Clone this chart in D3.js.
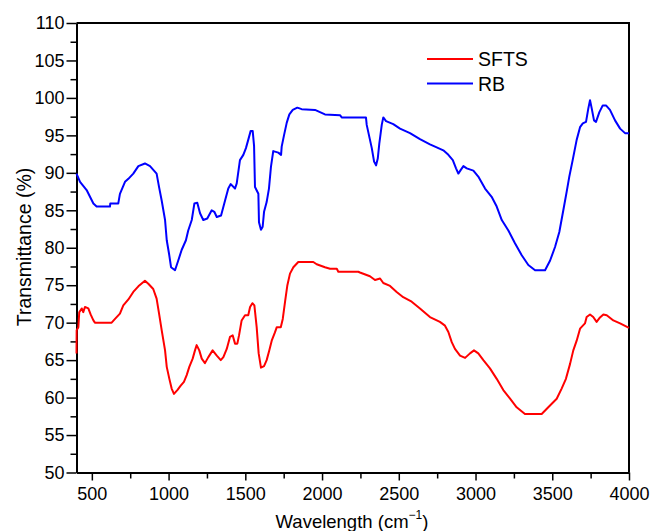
<!DOCTYPE html>
<html>
<head>
<meta charset="utf-8">
<script src="https://cdn.jsdelivr.net/npm/d3@7"></script>
<style>
  body { margin: 0; background: #fff; }
  text { font-family: "Liberation Sans", Arial, sans-serif; fill: #000; }
</style>
</head>
<body>
<div id="chart"></div>
<script>
// FTIR spectra, values
const rbWave = [400, 423, 466, 510, 531, 618, 620, 672, 683, 716, 738, 770, 803, 846, 879, 922, 938, 955, 977, 988,
  1003, 1016, 1042, 1063, 1085, 1113, 1128, 1151, 1168, 1187, 1205, 1226, 1252, 1281, 1298, 1314, 1342, 1368, 1389, 1405,
  1433, 1444, 1465, 1487, 1504, 1519, 1535, 1548, 1557, 1563, 1585, 1589, 1602, 1613, 1622, 1639, 1654, 1667, 1682, 1715,
  1733, 1737, 1752, 1770, 1787, 1809, 1839, 1867, 1954, 2019, 2117, 2128, 2286, 2291, 2308, 2324, 2339, 2352, 2363, 2373,
  2389, 2399, 2417, 2464, 2508, 2573, 2638, 2703, 2747, 2790, 2823, 2852, 2873, 2888, 2904, 2921, 2943, 2986, 3018, 3062,
  3105, 3138, 3171, 3214, 3257, 3301, 3344, 3388, 3453, 3486, 3518, 3546, 3572, 3594, 3611, 3633, 3659, 3681, 3699, 3720,
  3735, 3746, 3757, 3772, 3785, 3807, 3829, 3850, 3876, 3909, 3942, 3974, 4000];
const rbTrans = [89.9, 88.8, 87.7, 85.9, 85.5, 85.5, 85.9, 85.9, 87.2, 88.8, 89.2, 89.9, 90.9, 91.25, 90.9, 89.9, 88.1, 86.3, 83.7, 81.0,
  79.2, 77.4, 77.0, 78.3, 79.7, 81.0, 82.3, 83.7, 85.9, 86.0, 84.6, 83.7, 83.9, 85.0, 84.8, 84.1, 84.3, 86.3, 87.9, 88.5,
  87.9, 88.6, 91.7, 92.4, 93.3, 94.4, 95.6, 95.6, 93.6, 88.1, 87.2, 83.4, 82.4, 82.8, 84.8, 86.1, 87.9, 90.8, 92.9, 92.7,
  92.4, 93.5, 95.0, 96.7, 97.8, 98.4, 98.7, 98.5, 98.4, 97.8, 97.7, 97.4, 97.4, 96.4, 94.8, 93.3, 91.5, 91.0, 91.9, 93.9,
  96.4, 97.4, 96.9, 96.5, 95.9, 95.3, 94.5, 93.8, 93.4, 93.0, 92.4, 91.7, 90.6, 89.9, 90.4, 90.9, 90.6, 90.3, 89.5, 87.9,
  86.8, 85.5, 83.7, 82.3, 80.6, 79.0, 77.7, 77.0, 77.0, 78.3, 80.1, 82.1, 85.0, 87.5, 89.5, 91.7, 94.4, 96.1, 96.6, 96.8,
  98.6, 99.7, 98.6, 97.0, 96.8, 98.1, 99.0, 99.0, 98.4, 97.0, 95.9, 95.3, 95.3];

const sftsWave = [400, 401, 412, 418, 434, 444, 455, 477, 492, 510, 520, 629, 651, 683, 705, 738, 770, 803, 846, 868,
  900, 922, 938, 955, 977, 988, 1005, 1020, 1035, 1057, 1079, 1100, 1118, 1135, 1157, 1172, 1183, 1200, 1216, 1237,
  1259, 1287, 1314, 1340, 1357, 1379, 1400, 1418, 1433, 1448, 1459, 1476, 1498, 1519, 1531, 1546, 1559, 1574, 1587, 1602,
  1622, 1639, 1656, 1672, 1693, 1705, 1731, 1744, 1759, 1774, 1791, 1813, 1845, 1943, 1965, 2019, 2052, 2096, 2106, 2236,
  2247, 2312, 2345, 2378, 2399, 2443, 2486, 2529, 2584, 2638, 2703, 2768, 2801, 2823, 2845, 2866, 2899, 2932, 2964, 2990,
  3018, 3051, 3094, 3138, 3181, 3225, 3268, 3322, 3431, 3474, 3529, 3561, 3589, 3616, 3637, 3659, 3681, 3713, 3724, 3746,
  3767, 3789, 3811, 3833, 3855, 3898, 3942, 4000];
const sftsTrans = [65.9, 69.0, 69.4, 71.4, 71.9, 71.4, 72.1, 71.9, 71.1, 70.3, 70.0, 70.0, 70.5, 71.2, 72.3, 73.1, 74.1, 74.85, 75.6, 75.2,
  74.5, 73.2, 71.2, 69.0, 66.3, 64.1, 62.5, 61.2, 60.5, 61.0, 61.6, 62.1, 63.0, 64.1, 65.2, 66.3, 67.0, 66.3, 65.2, 64.6,
  65.4, 66.3, 65.6, 65.0, 65.4, 66.5, 68.1, 68.3, 67.2, 67.2, 68.3, 70.3, 71.0, 71.0, 72.1, 72.6, 72.3, 69.4, 65.9, 64.0,
  64.2, 65.0, 66.3, 67.6, 68.7, 69.4, 69.4, 70.5, 72.8, 75.0, 76.55, 77.4, 78.1, 78.1, 77.8, 77.4, 77.2, 77.2, 76.8, 76.8,
  76.7, 76.2, 75.7, 75.9, 75.3, 74.9, 74.1, 73.4, 72.8, 71.9, 70.75, 70.1, 69.6, 68.75, 67.4, 66.5, 65.6, 65.3, 65.9, 66.3,
  65.9, 65.0, 63.9, 62.5, 61.0, 59.85, 58.7, 57.8, 57.8, 58.7, 59.85, 61.2, 62.5, 64.5, 66.3, 67.6, 69.2, 69.9, 70.75, 71.1,
  70.75, 70.1, 70.7, 71.1, 71.0, 70.3, 69.9, 69.3];

const xTicks = [500, 1000, 1500, 2000, 2500, 3000, 3500, 4000];
const xMinorTicks = [750, 1250, 1750, 2250, 2750, 3250, 3750];
const yTicks = [50, 55, 60, 65, 70, 75, 80, 85, 90, 95, 100, 105, 110];
const yMinorTicks = [52.5, 57.5, 62.5, 67.5, 72.5, 77.5, 82.5, 87.5, 92.5, 97.5, 102.5, 107.5];

const seriesNames = ["SFTS", "RB"];
const seriesColors = ["#ff0000", "#0000ff"];

// layout
const W = 653, H = 531;
const plotLeft = 76.5, plotRight = 629, plotTop = 23, plotBottom = 472.5;

const svg = d3.select("#chart").append("svg")
  .attr("width", W)
  .attr("height", H);

const x = d3.scaleLinear().domain([400, 4000]).range([plotLeft, plotRight]);
const y = d3.scaleLinear().domain([50, 110]).range([plotBottom, plotTop]);

// minor ticks first (no labels)
svg.append("g")
  .attr("transform", `translate(${plotLeft},0)`)
  .call(d3.axisLeft(y).tickValues(yMinorTicks).tickSize(6).tickFormat(""))
  .call(g => g.select(".domain").remove())
  .call(g => g.selectAll("line").attr("stroke-width", 1.5));

svg.append("g")
  .attr("transform", `translate(0,${plotBottom})`)
  .call(d3.axisBottom(x).tickValues(xMinorTicks).tickSize(6).tickFormat(""))
  .call(g => g.select(".domain").remove())
  .call(g => g.selectAll("line").attr("stroke-width", 1.5));

// major axes
svg.append("g")
  .attr("transform", `translate(${plotLeft},0)`)
  .call(d3.axisLeft(y).tickValues(yTicks).tickFormat(d3.format("d")).tickSize(10).tickSizeOuter(0).tickPadding(2))
  .call(g => g.select(".domain").attr("stroke-width", 2))
  .call(g => g.selectAll("line").attr("stroke-width", 1.5))
  .call(g => g.selectAll("text").attr("font-size", 18).attr("font-family", "Liberation Sans, Arial, sans-serif"));

svg.append("g")
  .attr("transform", `translate(0,${plotBottom})`)
  .call(d3.axisBottom(x).tickValues(xTicks).tickFormat(d3.format("d")).tickSize(8).tickSizeOuter(0).tickPadding(7))
  .call(g => g.select(".domain").attr("stroke-width", 2))
  .call(g => g.selectAll("line").attr("stroke-width", 1.5))
  .call(g => g.selectAll("text").attr("font-size", 18).attr("font-family", "Liberation Sans, Arial, sans-serif"));

// frame top & right
svg.append("path")
  .attr("d", `M${plotLeft},${plotTop}H${plotRight}V${plotBottom}`)
  .attr("fill", "none")
  .attr("stroke", "#000")
  .attr("stroke-width", 2);

// spectra
const line = d3.line()
  .x(d => x(d[0]))
  .y(d => y(d[1]));

const sftsData = d3.zip(sftsWave, sftsTrans);
const rbData = d3.zip(rbWave, rbTrans);

[sftsData, rbData].forEach((data, i) => {
  svg.append("path")
    .datum(data)
    .attr("fill", "none")
    .attr("stroke", seriesColors[i])
    .attr("stroke-width", 2)
    .attr("stroke-linejoin", "round")
    .attr("d", line);
});

// legend
const legend = svg.append("g");
seriesNames.forEach((name, i) => {
  const ly = 59 + i * 24.5;
  legend.append("line")
    .attr("x1", 427).attr("x2", 473)
    .attr("y1", ly).attr("y2", ly)
    .attr("stroke", seriesColors[i])
    .attr("stroke-width", 2);
  legend.append("text")
    .attr("x", 478)
    .attr("y", ly + 7)
    .attr("font-size", 19.5)
    .text(name);
});

// axis titles
svg.append("text")
  .attr("transform", "rotate(-90)")
  .attr("x", -247)
  .attr("y", 31)
  .attr("text-anchor", "middle")
  .attr("font-size", 19.5)
  .text("Transmittance (%)");

const xTitle = svg.append("text")
  .attr("x", 352)
  .attr("y", 528)
  .attr("text-anchor", "middle")
  .attr("font-size", 18.5);
xTitle.append("tspan").text("Wavelength (cm");
xTitle.append("tspan").attr("dy", -9).attr("font-size", 12).text("\u22121");
xTitle.append("tspan").attr("dy", 9).text(")");
</script>
</body>
</html>
